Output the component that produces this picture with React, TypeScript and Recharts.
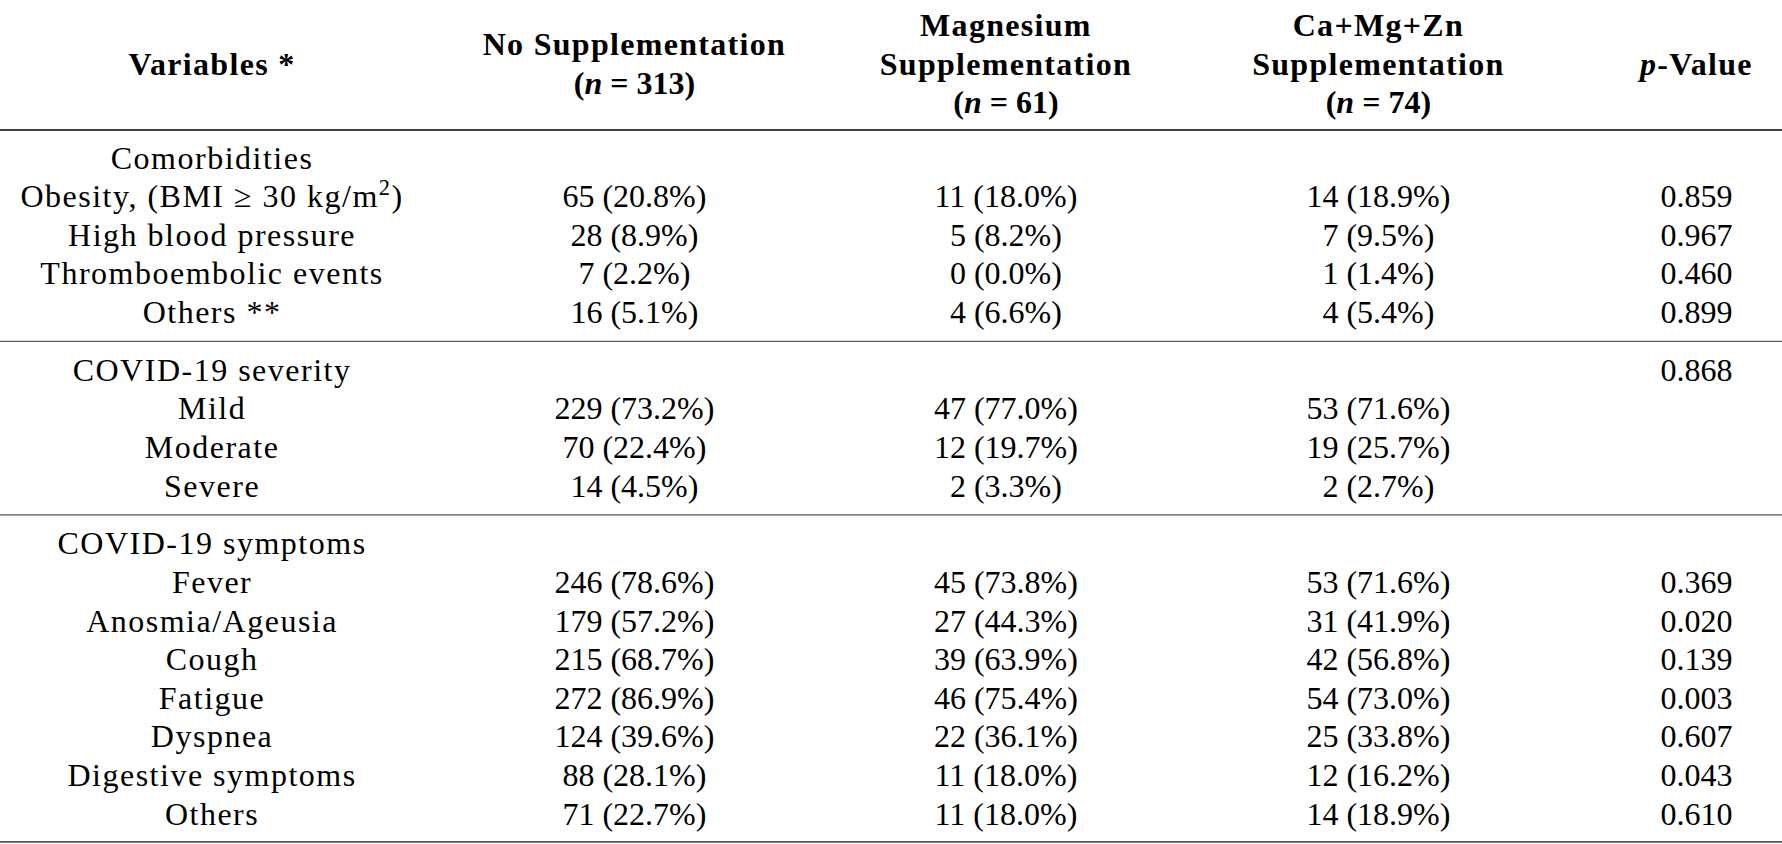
import { ScatterChart, Scatter, XAxis, YAxis, ReferenceLine } from 'recharts'

// header lines, _x_ marks italic parts
const headerVariables = ['Variables *']
const headerNoSupp = ['No Supplementation', '(_n_ = 313)']
const headerMg = ['Magnesium', 'Supplementation', '(_n_ = 61)']
const headerZn = ['Ca+Mg+Zn', 'Supplementation', '(_n_ = 74)']
const headerP = ['_p_-Value']

// comorbidities
const comorbidityTitle = 'Comorbidities'
const comorbidityLabels = ['Obesity, (BMI \u2265 30 kg/m^2^)', 'High blood pressure', 'Thromboembolic events', 'Others **']
const comorbidityNoSuppN = [65, 28, 7, 16]
const comorbidityNoSuppPct = [20.8, 8.9, 2.2, 5.1]
const comorbidityMgN = [11, 5, 0, 4]
const comorbidityMgPct = [18.0, 8.2, 0.0, 6.6]
const comorbidityZnN = [14, 7, 1, 4]
const comorbidityZnPct = [18.9, 9.5, 1.4, 5.4]
const comorbidityP = [0.859, 0.967, 0.46, 0.899]

// severity
const severityTitle = 'COVID-19 severity'
const severityTitleP = 0.868
const severityLabels = ['Mild', 'Moderate', 'Severe']
const severityNoSuppN = [229, 70, 14]
const severityNoSuppPct = [73.2, 22.4, 4.5]
const severityMgN = [47, 12, 2]
const severityMgPct = [77.0, 19.7, 3.3]
const severityZnN = [53, 19, 2]
const severityZnPct = [71.6, 25.7, 2.7]

// symptoms
const symptomTitle = 'COVID-19 symptoms'
const symptomLabels = ['Fever', 'Anosmia/Ageusia', 'Cough', 'Fatigue', 'Dyspnea', 'Digestive symptoms', 'Others']
const symptomNoSuppN = [246, 179, 215, 272, 124, 88, 71]
const symptomNoSuppPct = [78.6, 57.2, 68.7, 86.9, 39.6, 28.1, 22.7]
const symptomMgN = [45, 27, 39, 46, 22, 11, 11]
const symptomMgPct = [73.8, 44.3, 63.9, 75.4, 36.1, 18.0, 18.0]
const symptomZnN = [53, 31, 42, 54, 25, 12, 14]
const symptomZnPct = [71.6, 41.9, 56.8, 73.0, 33.8, 16.2, 18.9]
const symptomP = [0.369, 0.02, 0.139, 0.003, 0.607, 0.043, 0.61]

// layout (x in percent of width, y in row units)
const W = 1782
const H = 844
const PITCH = 38.59
const Y_MAX = H / PITCH
const COL_X = [11.9, 35.6, 56.45, 77.35, 95.2]
const HEADER_MID = 1.66
const BODY_START = 4.094
const SECTION_GAP = 1.5
const FONT = '"Liberation Serif", "Times New Roman", serif'
const SIZE = 32

type Cell = { x: number; y: number; text: string; bold?: boolean; spaced?: number }

const fmt = (n: number, pct: number) => `${n} (${pct.toFixed(1)}%)`

const headerCells: Cell[] = [headerVariables, headerNoSupp, headerMg, headerZn, headerP].flatMap((lines, c) =>
  lines.map((text, i) => ({
    x: COL_X[c],
    y: HEADER_MID + (i - (lines.length - 1) / 2),
    text,
    bold: true,
    spaced: text.startsWith('(') ? 0 : 1.3
  }))
)

const sections = [
  {
    title: comorbidityTitle,
    titleP: null as number | null,
    labels: comorbidityLabels,
    a: [comorbidityNoSuppN, comorbidityNoSuppPct],
    b: [comorbidityMgN, comorbidityMgPct],
    c: [comorbidityZnN, comorbidityZnPct],
    p: comorbidityP as number[] | null
  },
  {
    title: severityTitle,
    titleP: severityTitleP,
    labels: severityLabels,
    a: [severityNoSuppN, severityNoSuppPct],
    b: [severityMgN, severityMgPct],
    c: [severityZnN, severityZnPct],
    p: null
  },
  {
    title: symptomTitle,
    titleP: null,
    labels: symptomLabels,
    a: [symptomNoSuppN, symptomNoSuppPct],
    b: [symptomMgN, symptomMgPct],
    c: [symptomZnN, symptomZnPct],
    p: symptomP
  }
]

const bodyCells: Cell[] = []
const rules: { y: number; color: string; width: number }[] = [
  { y: BODY_START - 0.725, color: '#000', width: 1.6 }
]
let row = BODY_START
sections.forEach((s, si) => {
  bodyCells.push({ x: COL_X[0], y: row, text: s.title, spaced: 1.5 })
  if (s.titleP !== null) bodyCells.push({ x: COL_X[4], y: row, text: s.titleP.toFixed(3) })
  s.labels.forEach((label, i) => {
    const y = row + 1 + i
    bodyCells.push({ x: COL_X[0], y, text: label, spaced: 1.5 })
    bodyCells.push({ x: COL_X[1], y, text: fmt(s.a[0][i], s.a[1][i]) })
    bodyCells.push({ x: COL_X[2], y, text: fmt(s.b[0][i], s.b[1][i]) })
    bodyCells.push({ x: COL_X[3], y, text: fmt(s.c[0][i], s.c[1][i]) })
    if (s.p) bodyCells.push({ x: COL_X[4], y, text: s.p[i].toFixed(3) })
  })
  const last = row + s.labels.length
  const isLast = si === sections.length - 1
  rules.push({ y: last + (isLast ? 0.72 : 0.75), color: '#555', width: isLast ? 1.8 : 1.3 })
  row = last + SECTION_GAP
})

function renderParts(text: string) {
  // _x_ = italic, ^x^ = superscript
  const out: any[] = []
  let italic = false
  let sup = false
  let pendingDy = 0
  let buf = ''
  let k = 0
  const flush = () => {
    if (!buf) return
    const dy = (sup ? -SIZE * 0.38 : 0) + pendingDy
    pendingDy = 0
    out.push(
      <tspan
        key={k++}
        fontStyle={italic ? 'italic' : undefined}
        fontSize={sup ? SIZE * 0.7 : undefined}
        dy={dy || undefined}
      >
        {buf}
      </tspan>
    )
    buf = ''
  }
  for (const ch of text) {
    if (ch === '_') {
      flush()
      italic = !italic
    } else if (ch === '^') {
      flush()
      if (sup) pendingDy = SIZE * 0.38
      sup = !sup
    } else buf += ch
  }
  flush()
  return out
}

const TextCell = (props: any) => {
  const { cx, cy, payload } = props
  return (
    <text
      x={cx}
      y={cy}
      dy={SIZE * 0.33}
      textAnchor="middle"
      fontFamily={FONT}
      fontSize={SIZE}
      fontWeight={payload.bold ? 700 : 400}
      letterSpacing={payload.spaced || undefined}
      fill="#000"
    >
      {renderParts(payload.text)}
    </text>
  )
}

export default function App() {
  return (
    <div style={{ width: W, height: H, background: '#fff' }}>
      <style>{'body{margin:0}'}</style>
      <ScatterChart width={W} height={H} margin={{ top: 0, right: 0, bottom: 0, left: 0 }}>
        <XAxis type="number" dataKey="x" domain={[0, 100]} hide />
        <YAxis type="number" dataKey="y" domain={[0, Y_MAX]} reversed hide />
        {rules.map((r, i) => (
          <ReferenceLine key={i} y={r.y} stroke={r.color} strokeWidth={r.width} />
        ))}
        <Scatter data={headerCells} shape={TextCell} isAnimationActive={false} />
        <Scatter data={bodyCells} shape={TextCell} isAnimationActive={false} />
      </ScatterChart>
    </div>
  )
}
